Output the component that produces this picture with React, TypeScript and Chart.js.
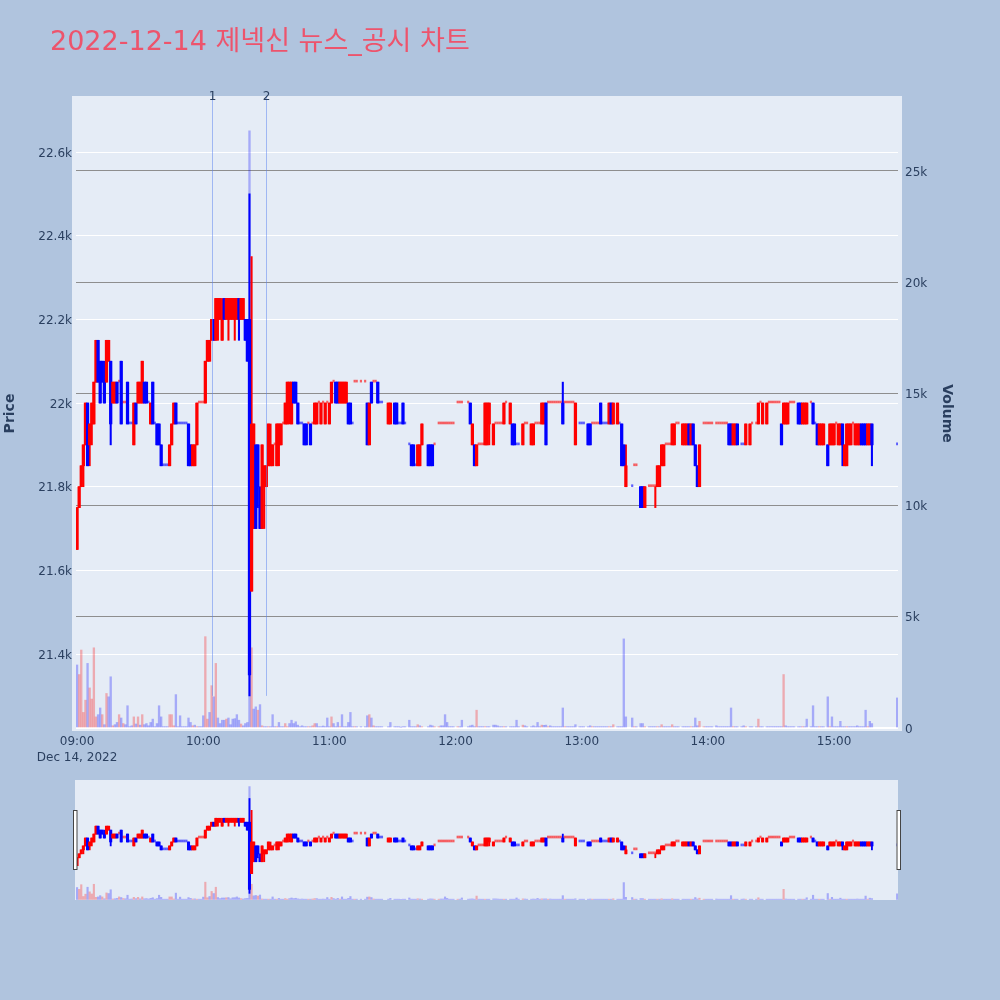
import React, { useEffect, useRef } from 'react';
import { Chart, registerables } from 'chart.js';
Chart.register(...registerables);

const _ = null;

// minute index from 09:00 (0 = 09:00, 390 = 15:30)
const openP: (number | null)[] = [
  21650,21750,21800,21850,21900,22000,21900,21950,21950,22050,
  22150,22100,22100,22050,22050,22100,22100,22000,22000,22050,
  22050,22100,22000,22000,22050,21950,21950,21900,22000,22000,
  22000,22000,22050,22050,22000,21950,22050,21950,21950,21950,
  21900,21850,21850,21850,21850,21900,21950,22000,21950,21950,
  21950,21950,21950,21950,21900,21850,21850,21900,22000,22000,
  22000,22000,22100,22100,22150,22200,22150,22200,22200,22150,
  22250,22200,22200,22200,22200,22200,22200,22250,22200,22200,
  22200,22200,22200,21550,21700,21900,21900,21750,21700,21800,
  21800,21850,21850,21850,21900,21850,21900,21900,21950,21950,
  21950,22000,21950,22050,22050,22000,21950,21950,21950,21950,
  21950,21950,21950,21950,21950,22000,21950,22000,21950,22000,
  21950,22000,22050,22050,22050,22000,22000,22000,22000,22000,
  22000,21950,22050,22050,_,22050,_,22050,22000,21900,
  22050,22050,22050,22050,22000,22000,_,_,21950,21950,
  _,22000,22000,21950,21950,22000,21950,_,21900,21900,
  21900,21850,21850,21850,21900,_,_,21900,21900,21900,
  21900,_,21950,21950,21950,21950,21950,21950,21950,21950,
  _,22000,22000,22000,_,_,22000,22000,21900,21900,
  21850,21900,21900,21900,21900,21900,21950,_,21900,21950,
  21950,21950,21950,21950,22000,_,21950,21950,21950,21900,
  21900,_,21900,21950,21950,_,21900,21900,21950,21950,
  21950,21950,21950,22000,22000,22000,22000,22000,22000,22000,
  22000,22000,22000,22000,22000,22000,22000,21900,_,21950,
  21950,21950,_,21950,21950,21950,21950,21950,21950,22000,
  21950,21950,21950,21950,22000,21950,_,21950,21950,21950,
  21900,21800,_,_,21800,21850,21850,_,21800,21800,
  21750,_,21800,21800,21800,21800,21800,21800,21850,21850,
  21900,21900,21900,21900,21900,21950,21950,_,21900,21900,
  21900,21950,21900,21950,21900,21850,21800,_,21950,21950,
  21950,21950,21950,_,21950,21950,21950,21950,21950,21950,
  21950,21950,21900,21900,21950,_,21900,21900,21900,_,
  21900,21950,_,21950,21950,22000,21950,_,21950,22000,
  22000,22000,22000,22000,22000,21950,21950,21950,21950,22000,
  22000,22000,_,22000,22000,21950,21950,21950,_,22000,
  22000,21950,21950,21900,21900,21900,_,21900,21900,21900,
  21900,21950,21900,21900,21950,21850,21850,21900,21900,21950,
  21900,21900,21900,21950,21950,21950,21900,21900,21950,_,
  _,_,_,_,_,_,_,_,_,_,
  21900,
];

const highP: (number | null)[] = [
  21750,21800,21850,21900,22000,22000,21950,22000,22050,22150,
  22150,22100,22100,22100,22150,22150,22100,22050,22050,22050,
  22050,22100,22000,22000,22050,21950,21950,22000,22000,22050,
  22050,22100,22050,22050,22000,22000,22050,21950,21950,21950,
  21900,21850,21850,21850,21900,21950,22000,22000,21950,21950,
  21950,21950,21950,21950,21900,21900,21900,22000,22000,22000,
  22000,22100,22150,22150,22200,22200,22250,22250,22250,22250,
  22250,22250,22250,22250,22250,22250,22250,22250,22250,22250,
  22200,22200,22500,22350,21950,21900,21900,21800,21900,21850,
  21850,21950,21950,21900,21900,21950,21950,21950,21950,22000,
  22050,22050,22050,22050,22050,22000,21950,21950,21950,21950,
  21950,21950,21950,22000,22000,22000,22000,22000,22000,22000,
  22000,22050,22050,22050,22050,22050,22050,22050,22050,22000,
  22000,21950,22050,22050,_,22050,_,22050,22000,22000,
  22050,22050,22050,22050,22000,22000,_,_,22000,22000,
  _,22000,22000,21950,21950,22000,21950,_,21900,21900,
  21900,21850,21900,21900,21950,_,_,21900,21900,21900,
  21900,_,21950,21950,21950,21950,21950,21950,21950,21950,
  _,22000,22000,22000,_,_,22000,22000,21950,21900,
  21900,21900,21900,21900,22000,22000,22000,_,21950,21950,
  21950,21950,21950,22000,22000,_,22000,21950,21950,21900,
  21900,_,21950,21950,21950,_,21950,21950,21950,21950,
  21950,22000,22000,22000,22000,22000,22000,22000,22000,22000,
  22000,22050,22000,22000,22000,22000,22000,22000,_,21950,
  21950,21950,_,21950,21950,21950,21950,21950,21950,22000,
  21950,21950,21950,22000,22000,22000,_,22000,21950,21950,
  21900,21900,_,_,21800,21850,21850,_,21800,21800,
  21800,_,21800,21800,21800,21800,21850,21850,21900,21900,
  21900,21900,21900,21950,21950,21950,21950,_,21950,21950,
  21950,21950,21950,21950,21900,21850,21900,_,21950,21950,
  21950,21950,21950,_,21950,21950,21950,21950,21950,21950,
  21950,21950,21950,21950,21950,_,21900,21900,21950,_,
  21950,21950,_,21950,22000,22000,22000,_,22000,22000,
  22000,22000,22000,22000,22000,21950,22000,22000,22000,22000,
  22000,22000,_,22000,22000,22000,22000,22000,_,22000,
  22000,21950,21950,21950,21950,21950,_,21900,21950,21950,
  21950,21950,21950,21950,21950,21900,21950,21950,21950,21950,
  21950,21950,21950,21950,21950,21950,21950,21950,21950,_,
  _,_,_,_,_,_,_,_,_,_,
  21900,
];

const lowP: (number | null)[] = [
  21650,21750,21800,21800,21900,21850,21850,21900,21950,22050,
  22050,22000,22050,22000,22050,22100,21900,22000,22000,22000,
  22050,21950,22000,22000,21950,21950,21950,21900,21950,22000,
  22000,22000,22000,22000,22000,21950,21950,21950,21900,21900,
  21850,21850,21850,21850,21850,21900,21950,21950,21950,21950,
  21950,21950,21950,21850,21850,21850,21850,21900,22000,22000,
  22000,22000,22100,22100,22150,22150,22150,22150,22200,22150,
  22200,22200,22150,22200,22200,22150,22200,22150,22200,22200,
  22150,22100,21300,21550,21700,21700,21750,21700,21700,21700,
  21800,21850,21850,21850,21900,21850,21850,21900,21950,21950,
  21950,21950,21950,22000,22000,21950,21950,21950,21900,21900,
  21950,21900,21950,21950,21950,22000,21950,22000,21950,22000,
  21950,22000,22050,22000,22000,22000,22000,22000,22000,21950,
  21950,21950,22050,22050,_,22050,_,22050,21900,21900,
  22000,22050,22050,22000,22000,22000,_,_,21950,21950,
  _,21950,21950,21950,21950,21950,21950,_,21900,21850,
  21850,21850,21850,21850,21900,_,_,21850,21850,21850,
  21900,_,21950,21950,21950,21950,21950,21950,21950,21950,
  _,22000,22000,22000,_,_,22000,21950,21900,21850,
  21850,21900,21900,21900,21900,21900,21900,_,21900,21950,
  21950,21950,21950,21950,22000,_,21950,21900,21900,21900,
  21900,_,21900,21950,21950,_,21900,21900,21950,21950,
  21950,21950,21950,21900,22000,22000,22000,22000,22000,22000,
  22000,21950,22000,22000,22000,22000,22000,21900,_,21950,
  21950,21950,_,21900,21900,21950,21950,21950,21950,21950,
  21950,21950,21950,21950,21950,21950,_,21950,21950,21850,
  21850,21800,_,_,21800,21850,21850,_,21750,21750,
  21750,_,21800,21800,21800,21750,21800,21800,21850,21850,
  21900,21900,21900,21900,21900,21950,21950,_,21900,21900,
  21900,21900,21900,21900,21850,21800,21800,_,21950,21950,
  21950,21950,21950,_,21950,21950,21950,21950,21950,21950,
  21900,21900,21900,21900,21900,_,21900,21900,21900,_,
  21900,21950,_,21950,21950,22000,21950,_,21950,22000,
  22000,22000,22000,22000,22000,21900,21950,21950,21950,22000,
  22000,22000,_,21950,21950,21950,21950,21950,_,22000,
  21950,21950,21900,21900,21900,21900,_,21850,21900,21900,
  21900,21950,21900,21900,21850,21850,21850,21900,21900,21950,
  21900,21900,21900,21900,21900,21900,21900,21900,21850,_,
  _,_,_,_,_,_,_,_,_,_,
  21900,
];

const closeP: (number | null)[] = [
  21750,21800,21850,21900,22000,21850,21950,22000,22050,22150,
  22050,22000,22050,22000,22150,22150,21950,22050,22050,22000,
  22050,21950,22000,22000,21950,21950,21950,22000,21950,22050,
  22050,22100,22000,22000,22000,22000,21950,21950,21900,21900,
  21850,21850,21850,21850,21900,21950,22000,21950,21950,21950,
  21950,21950,21950,21850,21850,21900,21900,22000,22000,22000,
  22000,22100,22150,22150,22200,22150,22250,22250,22250,22200,
  22200,22250,22250,22250,22250,22250,22250,22200,22250,22250,
  22150,22100,21350,21950,21950,21700,21800,21700,21900,21850,
  21850,21950,21900,21900,21900,21950,21950,21950,21950,22000,
  22050,22050,22050,22000,22000,21950,21950,21950,21900,21900,
  21950,21900,21950,22000,22000,22000,22000,22000,22000,22000,
  22000,22050,22050,22000,22000,22050,22050,22050,22050,21950,
  21950,21950,22050,22050,_,22050,_,22050,21900,22000,
  22000,22050,22050,22000,22000,22000,_,_,22000,22000,
  _,21950,21950,21950,21950,21950,21950,_,21900,21850,
  21850,21850,21900,21900,21950,_,_,21850,21850,21850,
  21900,_,21950,21950,21950,21950,21950,21950,21950,21950,
  _,22000,22000,22000,_,_,22000,21950,21950,21850,
  21900,21900,21900,21900,22000,22000,22000,_,21950,21950,
  21950,21950,21950,22000,22000,_,22000,21900,21900,21900,
  21900,_,21950,21950,21950,_,21950,21950,21950,21950,
  21950,22000,22000,21900,22000,22000,22000,22000,22000,22000,
  22000,21950,22000,22000,22000,22000,22000,22000,_,21950,
  21950,21950,_,21900,21900,21950,21950,21950,21950,21950,
  21950,21950,21950,22000,21950,22000,_,22000,21950,21850,
  21850,21850,_,_,21800,21850,21850,_,21750,21750,
  21800,_,21800,21800,21800,21800,21850,21850,21900,21900,
  21900,21900,21900,21950,21950,21950,21950,_,21950,21950,
  21950,21900,21950,21900,21850,21800,21900,_,21950,21950,
  21950,21950,21950,_,21950,21950,21950,21950,21950,21950,
  21900,21900,21950,21950,21900,_,21900,21900,21950,_,
  21950,21950,_,21950,22000,22000,22000,_,22000,22000,
  22000,22000,22000,22000,22000,21900,22000,22000,22000,22000,
  22000,22000,_,21950,21950,22000,22000,22000,_,22000,
  21950,21950,21900,21950,21950,21950,_,21850,21950,21950,
  21950,21950,21950,21950,21900,21900,21950,21950,21950,21950,
  21950,21950,21950,21900,21900,21900,21950,21950,21900,_,
  _,_,_,_,_,_,_,_,_,_,
  21900,
];

const volume: (number | null)[] = [
  2830,2400,3500,700,1250,2900,1800,1300,3600,500,
  600,900,600,150,1550,1400,2300,100,150,250,
  600,450,200,150,1000,60,100,500,180,500,
  130,600,150,200,100,250,400,60,200,1000,
  500,60,60,60,600,600,100,1500,60,550,
  60,60,60,450,250,100,130,60,60,60,
  550,4100,400,700,1900,1400,2900,450,200,350,
  350,400,450,150,400,420,600,350,180,100,
  200,250,26800,3600,850,950,800,1050,100,60,
  60,60,60,600,60,60,250,60,60,200,
  60,200,350,200,280,130,60,100,60,60,
  60,60,100,200,200,60,60,90,60,450,
  60,500,200,60,250,60,600,60,60,250,
  700,60,60,60,_,60,_,60,550,600,
  450,100,60,60,60,60,_,_,60,250,
  _,60,60,60,30,60,60,_,350,60,
  60,60,150,100,60,_,_,60,130,100,
  60,_,60,100,100,600,250,60,60,60,
  _,60,60,350,_,_,60,100,130,60,
  800,60,60,60,60,60,60,_,130,130,
  100,60,60,60,60,_,60,60,60,350,
  60,_,130,100,60,_,60,100,60,250,
  60,130,120,130,60,100,60,60,60,60,
  60,900,60,60,60,60,60,150,_,60,
  60,60,_,60,100,60,60,60,60,60,
  60,60,60,60,60,150,_,60,60,60,
  4000,500,_,_,450,60,60,_,200,200,
  60,_,60,60,60,60,60,60,150,60,
  60,60,60,150,60,60,60,_,60,60,
  60,60,60,60,450,100,300,_,60,60,
  60,60,60,_,100,60,60,60,60,60,
  60,900,60,60,60,_,60,100,60,_,
  60,60,_,60,400,60,60,_,60,60,
  60,60,60,60,60,60,2400,100,60,60,
  60,60,_,60,60,60,60,400,_,60,
  1000,60,60,60,60,60,_,1400,60,500,
  60,60,60,300,60,60,60,60,60,60,
  60,100,60,60,60,800,60,300,200,_,
  _,_,_,_,_,_,_,_,_,_,
  1350,
];

const xTickMinutes = [0, 60, 120, 180, 240, 300, 360];
const xTickLabels = ['09:00', '10:00', '11:00', '12:00', '13:00', '14:00', '15:00'];
const dateLabel = 'Dec 14, 2022';
const priceTicks = [21400, 21600, 21800, 22000, 22200, 22400, 22600];
const priceTickLabels = ['21.4k', '21.6k', '21.8k', '22k', '22.2k', '22.4k', '22.6k'];
const volTicks = [0, 5000, 10000, 15000, 20000, 25000];
const volTickLabels = ['0', '5k', '10k', '15k', '20k', '25k'];
const newsMinutes = [64, 90];
const newsLabels = ['1', '2'];
const newsLineLow = 21300;

const titleText = '2022-12-14 제넥신 뉴스_공시 차트';

const X_MIN = -0.5, X_MAX = 390.4;
const P_MIN = 21216, P_MAX = 22734;
const V_MIN = -134, V_MAX = 28366;

const RED = '#ff0000', BLUE = '#0000ff';
const DOT_UP = 'rgba(255,0,0,0.6)', DOT_DN = 'rgba(0,0,255,0.6)';
const VOL_UP = 'rgba(255,0,0,0.28)', VOL_DN = 'rgba(0,0,255,0.28)';
const PAPER = '#b0c4de', PLOT_BG = '#e5ecf6', FONT_COLOR = '#2a3f5f';
const FONT = "'DejaVu Sans', 'Noto Sans CJK KR', sans-serif";

type Cdl = { i: number; o: number; h: number; l: number; c: number; v: number; inc: boolean; flat: boolean; volUp: boolean };

function buildCandles(): Cdl[] {
  const out: Cdl[] = [];
  let inc = true;
  let prev: number | null = null;
  for (let i = 0; i < openP.length; i++) {
    const o = openP[i], h = highP[i], l = lowP[i], c = closeP[i];
    if (o == null || h == null || l == null || c == null) continue;
    if (c === o) {
      if (prev !== null && c !== prev) inc = c > prev;
    } else inc = c > o;
    const volUp = prev !== null && c > prev;
    prev = c;
    out.push({ i, o, h, l, c, v: volume[i] ?? 0, inc, flat: o === c, volUp });
  }
  return out;
}

function makeDatasets(candles: Cdl[], s: { body: number; dot: number; wick: number; vol: number }): any[] {
  const wk = candles.filter((k) => k.h > k.l);
  const bd = candles.filter((k) => !k.flat);
  const dt = candles.filter((k) => k.flat);
  return [
    {
      type: 'bar', yAxisID: 'y1', order: 4, grouped: false, borderWidth: 0,
      data: candles.map((k) => ({ x: k.i, y: k.v })),
      backgroundColor: candles.map((k) => (k.volUp ? VOL_UP : VOL_DN)),
      barThickness: s.vol,
    },
    {
      type: 'bar', yAxisID: 'y', order: 3, grouped: false, borderWidth: 0,
      data: wk.map((k) => ({ x: k.i, y: [k.l, k.h] })),
      backgroundColor: wk.map((k) => (k.inc ? RED : BLUE)),
      barThickness: s.wick,
    },
    {
      type: 'bar', yAxisID: 'y', order: 2, grouped: false, borderWidth: 0, minBarLength: 2,
      data: dt.map((k) => ({ x: k.i, y: [k.o, k.c] })),
      backgroundColor: dt.map((k) => (k.inc ? DOT_UP : DOT_DN)),
      barThickness: s.dot,
    },
    {
      type: 'bar', yAxisID: 'y', order: 1, grouped: false, borderWidth: 0,
      data: bd.map((k) => ({ x: k.i, y: [Math.min(k.o, k.c), Math.max(k.o, k.c)] })),
      backgroundColor: bd.map((k) => (k.inc ? RED : BLUE)),
      barThickness: s.body,
    },
  ];
}

export default function App() {
  const mainRef = useRef<HTMLCanvasElement>(null);
  const sliderRef = useRef<HTMLCanvasElement>(null);

  useEffect(() => {
    const candles = buildCandles();

    const mainDecor = {
      id: 'mainDecor',
      beforeDraw(chart: any) {
        const { ctx, chartArea: a } = chart;
        ctx.save();
        ctx.fillStyle = PAPER;
        ctx.fillRect(0, 0, chart.width, chart.height);
        ctx.fillStyle = PLOT_BG;
        ctx.fillRect(a.left - 4, a.top, a.right - a.left + 8, a.bottom - a.top);
        ctx.restore();
      },
      afterDatasetsDraw(chart: any) {
        const { ctx, chartArea: a } = chart;
        const xs = chart.scales.x, ys = chart.scales.y;
        ctx.save();
        newsMinutes.forEach((m, i) => {
          const px = Math.round(xs.getPixelForValue(m)) + 0.5;
          ctx.strokeStyle = 'rgba(90,130,240,0.5)';
          ctx.lineWidth = 1;
          ctx.beginPath();
          ctx.moveTo(px, a.top);
          ctx.lineTo(px, ys.getPixelForValue(newsLineLow));
          ctx.stroke();
          ctx.fillStyle = FONT_COLOR;
          ctx.font = `12px ${FONT}`;
          ctx.textAlign = 'center';
          ctx.textBaseline = 'middle';
          ctx.fillText(newsLabels[i], px, a.top + 1);
        });
        ctx.restore();
      },
    };

    const main = new Chart(mainRef.current!, {
      type: 'bar',
      data: { datasets: makeDatasets(candles, { body: 2.6, dot: 1.5, wick: 1.4, vol: 1.7 }) },
      options: {
        animation: false,
        responsive: false,
        devicePixelRatio: 1,
        events: [],
        layout: { padding: { left: 0, right: 41, top: 96, bottom: 0 } },
        plugins: { legend: { display: false }, tooltip: { enabled: false }, title: { display: false } },
        scales: {
          x: {
            type: 'linear', min: X_MIN, max: X_MAX, offset: false,
            grid: { display: false, drawTicks: false },
            border: { display: false },
            afterBuildTicks: (scale: any) => { scale.ticks = xTickMinutes.map((v) => ({ value: v })); },
            afterFit: (scale: any) => { scale.height = 269; },
            ticks: {
              autoSkip: false, maxRotation: 0, padding: 3, color: FONT_COLOR,
              font: { family: FONT, size: 12, lineHeight: 1.333 },
              callback: (v: any) => {
                const idx = xTickMinutes.indexOf(Number(v));
                if (idx < 0) return '';
                return idx === 0 ? [xTickLabels[idx], dateLabel] : xTickLabels[idx];
              },
            },
          },
          y: {
            type: 'linear', position: 'left', min: P_MIN, max: P_MAX,
            grid: { color: '#ffffff', lineWidth: 1, drawTicks: false },
            border: { display: false },
            afterBuildTicks: (scale: any) => { scale.ticks = priceTicks.map((v) => ({ value: v })); },
            afterFit: (scale: any) => { scale.width = 76; },
            ticks: {
              padding: 4, labelOffset: 1.5, color: FONT_COLOR, font: { family: FONT, size: 12 },
              callback: (v: any) => priceTickLabels[priceTicks.indexOf(Number(v))] ?? '',
            },
            title: { display: true, text: 'Price', color: FONT_COLOR, font: { family: FONT, size: 14, weight: 'bold' }, padding: { top: 2, bottom: 0 } },
          },
          y1: {
            type: 'linear', position: 'right', min: V_MIN, max: V_MAX,
            grid: {
              drawTicks: false,
              color: (c: any) => (c.tick && c.tick.value === 0 ? '#ffffff' : '#8e8e8e'),
              lineWidth: (c: any) => (c.tick && c.tick.value === 0 ? 2 : 1),
            },
            border: { display: false },
            afterBuildTicks: (scale: any) => { scale.ticks = volTicks.map((v) => ({ value: v })); },
            afterFit: (scale: any) => { scale.width = 61; },
            ticks: {
              padding: 7, labelOffset: 1.5, color: FONT_COLOR, font: { family: FONT, size: 12 },
              callback: (v: any) => volTickLabels[volTicks.indexOf(Number(v))] ?? '',
            },
            title: { display: true, text: 'Volume', color: FONT_COLOR, font: { family: FONT, size: 14, weight: 'bold' }, padding: { top: 4, bottom: 0 } },
          },
        },
      } as any,
      plugins: [mainDecor],
    });

    const sliderDecor = {
      id: 'sliderDecor',
      beforeDraw(chart: any) {
        const { ctx, chartArea: a } = chart;
        ctx.save();
        ctx.fillStyle = PLOT_BG;
        ctx.fillRect(a.left - 1, a.top, a.right - a.left + 1, a.bottom - a.top);
        ctx.restore();
      },
      afterDraw(chart: any) {
        const { ctx, chartArea: a } = chart;
        const h = (a.bottom - a.top) / 2;
        const top = a.top + (a.bottom - a.top - h) / 2;
        ctx.save();
        ctx.fillStyle = '#ffffff';
        ctx.strokeStyle = '#444444';
        ctx.lineWidth = 1;
        [a.left - 3, a.right - 1.5].forEach((x) => {
          ctx.fillRect(x, top, 4, h);
          ctx.strokeRect(x + 0.5, top + 0.5, 3.5, h - 1);
        });
        ctx.restore();
      },
    };

    const slider = new Chart(sliderRef.current!, {
      type: 'bar',
      data: { datasets: makeDatasets(candles, { body: 2.4, dot: 1.5, wick: 1.2, vol: 1.5 }) },
      options: {
        animation: false,
        responsive: false,
        devicePixelRatio: 1,
        events: [],
        layout: { padding: { left: 76, right: 102, top: 0, bottom: 0 } },
        plugins: { legend: { display: false }, tooltip: { enabled: false } },
        scales: {
          x: { type: 'linear', min: X_MIN, max: X_MAX, offset: false, display: false },
          y: { type: 'linear', min: P_MIN, max: P_MAX, display: false },
          y1: { type: 'linear', min: V_MIN, max: V_MAX, display: false },
        },
      } as any,
      plugins: [sliderDecor],
    });

    return () => {
      main.destroy();
      slider.destroy();
    };
  }, []);

  return (
    <div style={{ position: 'absolute', left: 0, top: 0, width: 1000, height: 1000, background: PAPER, overflow: 'hidden' }}>
      <canvas ref={mainRef} width={1000} height={1000} style={{ position: 'absolute', left: 0, top: 0, width: 1000, height: 1000 }} />
      <canvas ref={sliderRef} width={1000} height={120} style={{ position: 'absolute', left: 0, top: 780, width: 1000, height: 120 }} />
      <div
        style={{
          position: 'absolute', left: 50, top: 27, whiteSpace: 'nowrap',
          fontFamily: FONT, fontSize: 27, lineHeight: '28px', color: 'rgb(237,84,108)',
        }}
      >
        {titleText}
      </div>
    </div>
  );
}
